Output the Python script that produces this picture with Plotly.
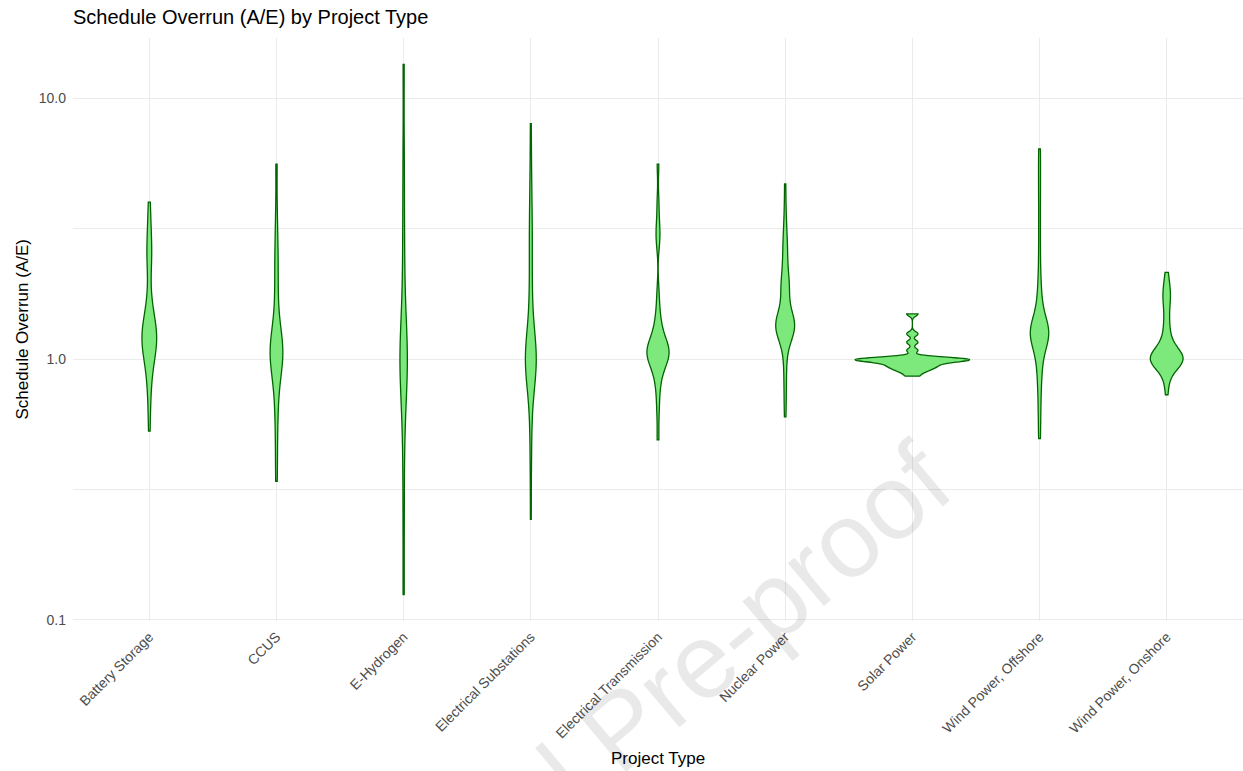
import numpy as np
import plotly.graph_objects as go

# Project categories (x axis order)
categories = [
    "Battery Storage", "CCUS", "E-Hydrogen", "Electrical Substations",
    "Electrical Transmission", "Nuclear Power", "Solar Power",
    "Wind Power, Offshore", "Wind Power, Onshore",
]

# Schedule overrun ratios (actual / estimated) per project
battery_storage = [0.53, 0.66, 0.76, 0.85, 0.92, 0.98, 1.02, 1.06, 1.10, 1.13, 1.16, 1.19, 1.20,
                   1.22, 1.24, 1.25, 1.28, 1.32, 1.37, 1.43, 1.50, 1.60, 1.75, 2.20, 2.40, 2.55,
                   2.70, 3.00, 3.40, 4.00]
ccus = [0.34, 0.45, 0.58, 0.68, 0.78, 0.88, 0.94, 0.98, 1.00, 1.02, 1.05, 1.08, 1.10, 1.13,
        1.17, 1.22, 1.30, 1.50, 1.75, 2.10, 2.40, 2.80, 3.60, 5.60]
e_hydrogen = [0.125, 0.25, 0.45, 0.65, 0.80, 0.90, 0.97, 1.00, 1.04, 1.10, 1.25, 1.60, 2.30,
              3.50, 6.00, 13.5]
electrical_substations = [0.243, 0.38, 0.50, 0.62, 0.75, 0.82, 0.88, 0.93, 0.95, 0.97, 0.99,
                          1.00, 1.00, 1.00, 1.01, 1.03, 1.04, 1.07, 1.12, 1.20, 1.35, 1.60,
                          1.80, 2.00, 2.50, 2.80, 3.10, 3.60, 4.30, 5.50, 8.00]
electrical_transmission = [0.49, 0.62, 0.72, 0.80, 0.86, 0.90, 0.94, 0.97, 1.00, 1.00, 1.02,
                           1.04, 1.05, 1.06, 1.07, 1.08, 1.09, 1.10, 1.12, 1.15, 1.18, 1.22,
                           1.27, 1.33, 1.42, 1.55, 1.80, 2.80, 3.00, 3.30, 4.00, 5.60]
nuclear_power = [0.60, 0.70, 0.80, 0.90, 1.00, 1.10, 1.17, 1.24, 1.27, 1.29, 1.30, 1.31, 1.32,
                 1.33, 1.33, 1.34, 1.35, 1.35, 1.36, 1.36, 1.37, 1.38, 1.40, 1.42, 1.45, 1.52,
                 1.62, 1.80, 1.84, 1.87, 1.89, 1.91, 1.94, 2.05, 2.20, 2.35, 2.50, 2.65, 2.80,
                 3.00, 3.30, 3.80, 4.70]
solar_power = [0.86, 0.89, 0.905, 0.92, 0.93, 0.94, 0.95, 0.96, 0.97, 0.98, 0.99, 0.995,
               1.00, 1.00, 1.00, 1.00, 1.00, 1.00, 1.00, 1.08, 1.16, 1.25, 1.49]
wind_offshore = [0.495, 0.60, 0.70, 0.80, 0.88, 0.95, 1.02, 1.08, 1.15, 1.18, 1.20, 1.22, 1.24,
                 1.25, 1.26, 1.27, 1.28, 1.30, 1.32, 1.35, 1.38, 1.45, 1.55, 1.68, 1.85, 2.10,
                 2.60, 3.30, 4.20, 5.20, 6.40]
wind_onshore = [0.73, 0.80, 0.86, 0.90, 0.93, 0.95, 0.96, 0.97, 0.98, 0.98, 0.99, 0.99,
                1.00, 1.00, 1.00, 1.00, 1.00, 1.01, 1.01, 1.01, 1.02, 1.02, 1.03, 1.04,
                1.06, 1.08, 1.10, 1.13, 1.16, 1.20, 1.25, 1.31, 1.38, 1.46, 1.55, 1.65, 1.72,
                1.76, 1.80, 1.90, 2.00, 2.15]

series = [battery_storage, ccus, e_hydrogen, electrical_substations, electrical_transmission,
          nuclear_power, solar_power, wind_offshore, wind_onshore]

# y axis ticks (log10 scale)
y_tick_values = [0.1, 1.0, 10.0]
y_tick_labels = ["0.1", "1.0", "10.0"]

FILL = "rgb(125,233,125)"
EDGE = "#006400"
GRID = "#ebebeb"
FONT = "Liberation Sans, Arial, Helvetica, sans-serif"


def nrd0(x):
    """Silverman's rule of thumb (R's bw.nrd0)."""
    x = np.asarray(x, dtype=float)
    hi = np.std(x, ddof=1)
    q75, q25 = np.percentile(x, [75, 25])
    lo = min(hi, (q75 - q25) / 1.34)
    if lo == 0:
        lo = hi or abs(x[0]) or 1.0
    return 0.9 * lo * len(x) ** -0.2


fig = go.Figure()
all_logs = []
for cat, vals in zip(categories, series):
    logs = np.log10(np.asarray(vals, dtype=float))
    all_logs.extend(logs.tolist())
    # one shared scale group -> densities compared on a common scale (equal areas)
    fig.add_trace(go.Violin(
        x=[cat] * len(logs),
        y=logs,
        name=cat,
        scalegroup="all",
        scalemode="width",
        spanmode="hard",
        bandwidth=nrd0(logs),
        fillcolor=FILL,
        line=dict(color=EDGE, width=1.3),
        points=False,
        box_visible=False,
        meanline_visible=False,
        opacity=1,
        showlegend=False,
        hoverinfo="skip",
    ))

lo, hi = min(all_logs), max(all_logs)
pad = 0.05 * (hi - lo)

fig.update_layout(
    width=1243,
    height=771,
    margin=dict(l=73, r=0, t=38, b=150),
    paper_bgcolor="white",
    plot_bgcolor="white",
    violinmode="overlay",
    violingap=0.1,
    violingroupgap=0,
    font=dict(family=FONT, color="#4d4d4d"),
    title=dict(
        text="Schedule Overrun (A/E) by Project Type",
        x=73 / 1243, xanchor="left",
        y=1 - 17 / 771, yanchor="middle",
        font=dict(size=20, color="black", family=FONT),
    ),
    xaxis=dict(
        type="category",
        categoryorder="array",
        categoryarray=categories,
        range=[-0.6, len(categories) - 0.4],
        tickangle=-45,
        tickfont=dict(size=14, color="#4d4d4d"),
        showgrid=True, gridcolor=GRID, gridwidth=1.1,
        zeroline=False, showline=False, ticks="",
        ticklabelstandoff=4,
    ),
    yaxis=dict(
        range=[lo - pad, hi + pad],
        tickmode="array",
        tickvals=np.log10(y_tick_values).tolist(),
        ticktext=y_tick_labels,
        tickfont=dict(size=14, color="#4d4d4d"),
        showgrid=True, gridcolor=GRID, gridwidth=1.1,
        minor=dict(tick0=-0.5, dtick=1, showgrid=True, gridcolor=GRID, gridwidth=0.6, ticks=""),
        zeroline=False, showline=False, ticks="",
        ticklabelstandoff=6,
    ),
)

# Axis titles
fig.add_annotation(
    text="Project Type", xref="paper", yref="paper",
    x=0.5, y=(621 - 758) / 583, xanchor="center", yanchor="middle",
    showarrow=False, font=dict(size=17, color="black", family=FONT),
)
fig.add_annotation(
    text="Schedule Overrun (A/E)", xref="paper", yref="paper",
    x=(22 - 73) / 1170, y=0.5, xanchor="center", yanchor="middle", textangle=-90,
    showarrow=False, font=dict(size=17, color="black", family=FONT),
)

# Watermark
fig.add_annotation(
    text="Journal Pre-proof", xref="paper", yref="paper",
    x=(621 - 73) / 1170, y=(621 - 728) / 583, xanchor="center", yanchor="middle",
    textangle=-40, showarrow=False,
    font=dict(size=106, color="rgba(0,0,0,0.085)", family=FONT),
)

fig.write_html("out.html")
